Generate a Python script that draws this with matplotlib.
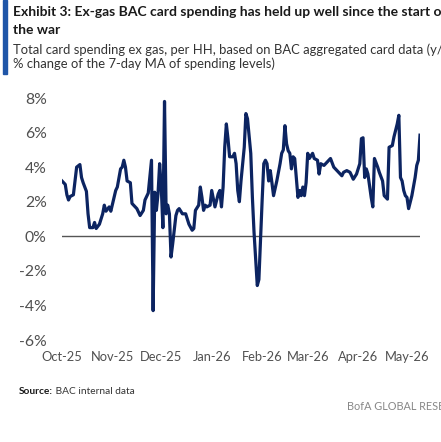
import numpy as np
import pandas as pd
import matplotlib
matplotlib.use("Agg")
import matplotlib.pyplot as plt
import matplotlib.dates as mdates

# days since 2025-10-01 and y/y % change
days = [0, 2, 3, 4, 5, 7, 8, 9, 11, 12, 13, 15, 16, 17, 19, 20, 21, 23, 25, 26,
        27, 29, 30, 33, 34, 36, 37, 38, 39, 40, 42, 43, 44, 46, 48, 50, 51, 53, 55, 56,
        57, 58, 59, 60, 61, 62, 63, 64, 65, 66, 67, 68, 70, 71, 72, 74, 76, 78, 80, 81,
        82, 84, 85, 86, 87, 88, 89, 91, 92, 94, 96, 97, 98, 99, 100, 101, 102, 103, 105, 106,
        107, 108, 109, 110, 112, 113, 114, 116, 117, 118, 120, 121, 123, 124, 125, 126, 127, 128, 129, 130,
        132, 134, 135, 136, 137, 138, 139, 140, 141, 142, 143, 144, 145, 146, 147, 148, 149, 150, 151, 152,
        154, 155, 157, 158, 159, 161, 163, 165, 167, 169, 172, 173, 175, 177, 179, 181, 183, 184, 185, 186,
        187, 188, 190, 191, 192, 194, 195, 197, 198, 200, 201, 203, 204, 206, 207, 208, 209, 210, 211, 212,
        213, 215, 217, 218, 219, 220]
spend = [3.2, 3.0, 2.4, 2.1, 2.3, 2.4, 3.2, 4.0, 4.15, 3.4, 3.1, 2.6, 1.3, 0.5, 0.5, 0.8, 0.45, 0.7, 1.3, 1.8,
         1.45, 1.7, 1.45, 2.65, 2.85, 3.9, 4.0, 4.4, 4.0, 3.2, 3.1, 1.9, 1.8, 1.6, 1.2, 1.5, 2.1, 2.5, 4.4, -4.3,
         2.55, 1.5, 2.45, 4.2, 2.85, 0.5, 7.8, 1.3, 1.8, 1.3, -1.2, -0.45, 1.2, 1.5, 1.6, 1.3, 1.3, 0.7, 0.35, 0.45,
         1.5, 1.8, 2.85, 2.25, 1.5, 1.8, 1.7, 1.8, 2.65, 1.7, 2.45, 2.65, 1.7, 2.85, 5.15, 6.5, 5.65, 4.6, 4.6, 4.8,
         4.2, 2.65, 2.0, 3.2, 5.15, 7.1, 6.8, 4.8, 2.25, 0.25, -2.85, -2.5, 2.1, 4.2, 4.4, 4.2, 3.2, 3.8, 3.1, 2.35,
         3.2, 4.2, 4.8, 5.0, 6.4, 5.35, 4.95, 4.8, 3.9, 4.6, 4.5, 3.4, 2.25, 2.65, 2.35, 2.85, 2.35, 3.1, 4.8, 4.5,
         4.8, 4.5, 4.4, 3.6, 4.2, 4.1, 4.3, 4.5, 4.0, 3.8, 3.5, 3.7, 3.8, 3.7, 3.3, 3.6, 4.2, 5.65, 5.7, 3.4,
         3.9, 3.6, 2.25, 1.7, 4.5, 4.0, 3.7, 3.2, 2.35, 2.15, 5.15, 5.25, 5.75, 6.5, 7.0, 3.4, 3.2, 2.65, 2.35, 2.25,
         1.6, 2.35, 3.4, 4.1, 4.4, 5.85]

start = pd.Timestamp("2025-10-01")
dates = start + pd.to_timedelta(days, unit="D")

yticks = [-6, -4, -2, 0, 2, 4, 6, 8]
month_ticks = pd.date_range("2025-10-01", "2026-05-01", freq="MS")

navy = "#0c2461"
tick_grey = "#505050"
plt.rcParams["font.family"] = ["Lato", "DejaVu Sans"]

fig = plt.figure(figsize=(4.41, 4.42), dpi=100)
ax = fig.add_axes([62 / 441, 1 - 340 / 442, 358 / 441, 242 / 442])

ax.plot(dates, spend, color=navy, lw=2.3, solid_joinstyle="round")
ax.axhline(0, color="#555555", lw=1.0, zorder=0)

ax.set_ylim(-6, 8)
ax.set_xlim(start, start + pd.Timedelta(days=220))
ax.set_yticks(yticks)
ax.set_yticklabels([f"{v}%" for v in yticks])
ax.set_xticks(month_ticks)
ax.xaxis.set_major_formatter(mdates.DateFormatter("%b-%y"))

for s in ax.spines.values():
    s.set_visible(False)
ax.tick_params(axis="both", length=0, colors=tick_grey)
ax.tick_params(axis="y", pad=11, labelsize=11.3)
ax.tick_params(axis="x", pad=8, labelsize=9.3)

# header
fig.patches.append(plt.Rectangle((3 / 441, 1 - 74 / 442), 4 / 441, 74 / 442,
                                 transform=fig.transFigure, color="#1f56a8"))
fig.text(13 / 441, 1 - 12 / 442, "Exhibit 3: Ex-gas BAC card spending has held up well since the start of",
         fontsize=10.0, weight="bold", color="#1a1a1a", va="center")
fig.text(13 / 441, 1 - 30 / 442, "the war", fontsize=10.0, weight="bold",
         color="#1a1a1a", va="center")
fig.text(13 / 441, 1 - 50 / 442, "Total card spending ex gas, per HH, based on BAC aggregated card data (y/y",
         fontsize=9.4, color="#333333", va="center")
fig.text(13 / 441, 1 - 64 / 442, "% change of the 7-day MA of spending levels)",
         fontsize=9.4, color="#333333", va="center")

# footer
src = fig.text(19 / 441, 1 - 391 / 442, "Source:", fontsize=7.3, weight="bold",
               color="#1a1a1a", va="center")
ax.annotate(" BAC internal data", xy=(1, 0.5), xycoords=src, va="center", ha="left",
            fontsize=7.3, color="#333333", annotation_clip=False)
fig.text(347 / 441, 1 - 407 / 442, "BofA GLOBAL RESEARCH", fontsize=7.8,
         color="#888888", va="center")

fig.savefig("out.png", dpi=100)
